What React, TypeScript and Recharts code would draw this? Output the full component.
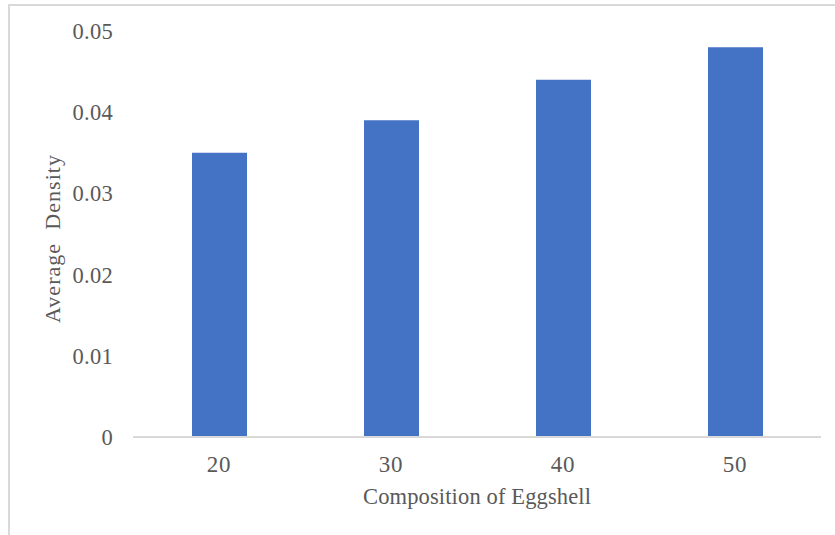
import React from 'react';
import { BarChart, Bar, XAxis, YAxis } from 'recharts';

const categories = ['20', '30', '40', '50'];
const densityValues = [0.035, 0.039, 0.044, 0.048];
const yTicks = [0, 0.01, 0.02, 0.03, 0.04, 0.05];
const yTickLabels = ['0', '0.01', '0.02', '0.03', '0.04', '0.05'];
const xTitle = 'Composition of Eggshell';
const yTitle = 'Average  Density';

const data = categories.map((c, i) => ({ name: c, value: densityValues[i] }));

const FONT = '"Liberation Serif", "Times New Roman", serif';
const TEXT = '#595959';

const XTitle = (props: any) => {
  const vb = props.viewBox || {};
  return (
    <text x={vb.x + vb.width / 2} y={vb.y + 67} textAnchor="middle" fill={TEXT} fontFamily={FONT} fontSize={22.5} textLength={228} lengthAdjust="spacing">
      {xTitle}
    </text>
  );
};

const YTitle = (props: any) => {
  const vb = props.viewBox || {};
  const cx = 60;
  const cy = vb.y + vb.height / 2 + 5;
  return (
    <text x={cx} y={cy} textAnchor="middle" fill={TEXT} fontFamily={FONT} fontSize={22} textLength={168} lengthAdjust="spacing" transform={`rotate(-90, ${cx}, ${cy})`} style={{ whiteSpace: 'pre' }}>
      {yTitle}
    </text>
  );
};

export default function App() {
  return (
    <div style={{ position: 'absolute', left: 0, top: 0, width: 835, height: 535, overflow: 'hidden', background: '#fff' }}>
      <div style={{ position: 'absolute', left: 8, top: 4, width: 900, height: 700, border: '2px solid #d9d9d9', boxSizing: 'border-box' }} />
      <div style={{ position: 'absolute', left: 0, top: 0 }}>
        <BarChart width={835} height={535} data={data} margin={{ top: 31, right: 14, bottom: 0, left: 0 }}>
          <XAxis
            dataKey="name"
            height={98}
            tickLine={false}
            tickSize={0}
            tickMargin={19}
            axisLine={{ stroke: '#d9d9d9', strokeWidth: 2 }}
            tick={{ fill: TEXT, fontFamily: FONT, fontSize: 23, letterSpacing: 0.8 }}
            label={{ content: XTitle }}
          />
          <YAxis
            width={133}
            domain={[0, 0.05]}
            ticks={yTicks}
            tickFormatter={(v: number) => yTickLabels[yTicks.indexOf(v)] ?? String(v)}
            axisLine={false}
            tickLine={false}
            tickSize={0}
            tickMargin={20}
            tick={{ fill: TEXT, fontFamily: FONT, fontSize: 22.5, letterSpacing: 0.3 }}
            label={{ content: YTitle }}
          />
          <Bar dataKey="value" fill="#4472C4" barSize={55} isAnimationActive={false} />
        </BarChart>
      </div>
    </div>
  );
}
